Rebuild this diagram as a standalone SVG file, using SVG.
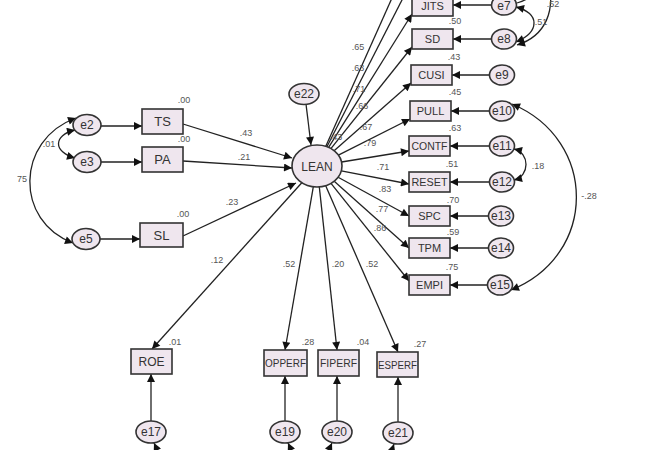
<svg xmlns="http://www.w3.org/2000/svg" width="650" height="450" viewBox="0 0 650 450">
<style>
.box{fill:#efe6ee;stroke:#333;stroke-width:1.6}
.ell{fill:#efe6ee;stroke:#333;stroke-width:1.6}
.lbl{font-family:"Liberation Sans",Arial,sans-serif;font-size:12px;fill:#333;text-anchor:middle}
.sm{font-family:"Liberation Sans",Arial,sans-serif;font-size:10px;fill:#333;text-anchor:middle}
.rb{font-family:"Liberation Sans",Arial,sans-serif;font-size:11px;fill:#333;text-anchor:middle}
.num{font-family:"Liberation Sans",Arial,sans-serif;font-size:9px;fill:#555;text-anchor:middle}
.ln{fill:none;stroke:#222;stroke-width:1.3}
.a{marker-end:url(#ah)}
.b{marker-start:url(#ah);marker-end:url(#ah)}
</style>
<defs>
<marker id="ah" viewBox="0 0 10 10" refX="10" refY="5" markerWidth="11" markerHeight="8" orient="auto-start-reverse" markerUnits="userSpaceOnUse">
<path d="M0,0 L10,5 L0,10 z" fill="#111"/>
</marker>
</defs>
<rect width="650" height="450" fill="#fff"/>
<g id="connectors">
<line class="ln a" x1="101" y1="126" x2="142" y2="126"/>
<line class="ln a" x1="101" y1="162" x2="142" y2="162"/>
<line class="ln a" x1="100" y1="239" x2="140" y2="239"/>
<path class="ln b" d="M76,118 C15,140 15,222 73,243"/>
<path class="ln b" d="M75,130 C53,135 53,152 75,158"/>
<line class="ln a" x1="183" y1="124" x2="292" y2="158"/>
<line class="ln a" x1="183" y1="161" x2="292" y2="168"/>
<line class="ln a" x1="183" y1="236" x2="296" y2="183"/>
<line class="ln a" x1="306" y1="104" x2="311" y2="145"/>
<line class="ln" x1="325.8" y1="146.3" x2="392" y2="-2"/>
<line class="ln" x1="326.9" y1="146.7" x2="403" y2="-2"/>
<line class="ln a" x1="328.6" y1="147.4" x2="412" y2="14"/>
<line class="ln a" x1="330.9" y1="148.6" x2="412" y2="47"/>
<line class="ln a" x1="334.1" y1="150.7" x2="411" y2="83"/>
<line class="ln a" x1="338.4" y1="155.1" x2="410" y2="119"/>
<line class="ln a" x1="341.5" y1="162" x2="409" y2="151"/>
<line class="ln a" x1="341.3" y1="170.8" x2="409" y2="184"/>
<line class="ln a" x1="338.1" y1="177.3" x2="409" y2="216"/>
<line class="ln a" x1="334.2" y1="181.2" x2="409" y2="248"/>
<line class="ln a" x1="331" y1="183.4" x2="409" y2="281"/>
<line class="ln a" x1="325.7" y1="185.7" x2="398" y2="352"/>
<line class="ln a" x1="319.3" y1="186.9" x2="337" y2="350"/>
<line class="ln a" x1="313.3" y1="186.8" x2="285" y2="350"/>
<line class="ln a" x1="301.8" y1="182.7" x2="152" y2="349"/>
<line class="ln a" x1="491.5" y1="5" x2="453" y2="5"/>
<line class="ln a" x1="491.5" y1="39" x2="453" y2="39"/>
<line class="ln a" x1="489.5" y1="75" x2="452" y2="75"/>
<line class="ln a" x1="489.5" y1="111" x2="451" y2="111"/>
<line class="ln a" x1="489.5" y1="146" x2="450" y2="146"/>
<line class="ln a" x1="489.5" y1="182" x2="450" y2="182"/>
<line class="ln a" x1="488.5" y1="216" x2="450" y2="216"/>
<line class="ln a" x1="488.5" y1="248" x2="450" y2="248"/>
<line class="ln a" x1="487.5" y1="285" x2="450" y2="285"/>
<path class="ln b" d="M516,7 C540,13 540,32 516,42"/>
<path class="ln a" d="M548,-20 C556,10 546,36 517,45"/>
<path class="ln" d="M517,3 C530,-1 535,-6 536,-12"/>
<path class="ln b" d="M514,149 C530,153 530,176 514,180"/>
<path class="ln b" d="M512,104 C598,140 598,255 511,290"/>
<line class="ln a" x1="151" y1="421" x2="151" y2="374"/>
<line class="ln a" x1="285" y1="421" x2="285" y2="376"/>
<line class="ln a" x1="337" y1="421" x2="337" y2="376"/>
<line class="ln a" x1="398" y1="422" x2="398" y2="377"/>
<line class="ln a" x1="160" y1="456" x2="154" y2="443"/>
<line class="ln a" x1="294" y1="456" x2="288" y2="443"/>
<line class="ln a" x1="326" y1="456" x2="332" y2="443"/>
<line class="ln a" x1="390" y1="456" x2="394" y2="444"/>
</g>
<g id="n-LEAN"><ellipse class="ell" cx="317" cy="166" rx="25" ry="21"/><text class="lbl" x="317" y="170.5">LEAN</text></g>
<g id="n-e22"><ellipse class="ell" cx="304" cy="94" rx="15" ry="10.5"/><text class="lbl" x="304" y="98">e22</text></g>
<g id="n-TS"><rect class="box" x="142" y="109" width="41" height="25"/><text class="lbl" x="162.5" y="126" style="font-size:13px">TS</text></g>
<g id="n-PA"><rect class="box" x="142" y="147" width="41" height="25"/><text class="lbl" x="162.5" y="164" style="font-size:13px">PA</text></g>
<g id="n-SL"><rect class="box" x="140" y="223" width="43" height="24"/><text class="lbl" x="161.5" y="240" style="font-size:13px">SL</text></g>
<g id="n-e2"><ellipse class="ell" cx="87" cy="125" rx="14" ry="10.5"/><text class="lbl" x="87" y="129">e2</text></g>
<g id="n-e3"><ellipse class="ell" cx="87" cy="162" rx="14" ry="10.5"/><text class="lbl" x="87" y="166">e3</text></g>
<g id="n-e5"><ellipse class="ell" cx="86" cy="239" rx="14" ry="10.5"/><text class="lbl" x="86" y="243">e5</text></g>
<g id="n-JITS"><rect class="box" x="412" y="-4" width="41" height="20"/><text class="rb" x="432.5" y="10">JITS</text></g>
<g id="n-SD"><rect class="box" x="412" y="29" width="41" height="20"/><text class="rb" x="432.5" y="43">SD</text></g>
<g id="n-CUSI"><rect class="box" x="411" y="65" width="41" height="20"/><text class="rb" x="431.5" y="79">CUSI</text></g>
<g id="n-PULL"><rect class="box" x="410" y="101" width="41" height="20"/><text class="rb" x="430.5" y="115">PULL</text></g>
<g id="n-CONTF"><rect class="box" x="409" y="136" width="41" height="20"/><text class="rb" x="429.5" y="150" textLength="36" lengthAdjust="spacingAndGlyphs">CONTF</text></g>
<g id="n-RESET"><rect class="box" x="409" y="172" width="41" height="20"/><text class="rb" x="429.5" y="186" textLength="36" lengthAdjust="spacingAndGlyphs">RESET</text></g>
<g id="n-SPC"><rect class="box" x="409" y="206" width="41" height="20"/><text class="rb" x="429.5" y="220">SPC</text></g>
<g id="n-TPM"><rect class="box" x="409" y="238" width="41" height="20"/><text class="rb" x="429.5" y="252">TPM</text></g>
<g id="n-EMPI"><rect class="box" x="409" y="275" width="41" height="20"/><text class="rb" x="429.5" y="289">EMPI</text></g>
<g id="n-e7"><ellipse class="ell" cx="504" cy="5" rx="12.5" ry="10"/><text class="lbl" x="504" y="10">e7</text></g>
<g id="n-e8"><ellipse class="ell" cx="504" cy="39" rx="12.5" ry="10"/><text class="lbl" x="504" y="43">e8</text></g>
<g id="n-e9"><ellipse class="ell" cx="502" cy="75" rx="12.5" ry="10"/><text class="lbl" x="502" y="79">e9</text></g>
<g id="n-e10"><ellipse class="ell" cx="502" cy="111" rx="12.5" ry="10"/><text class="lbl" x="502" y="115">e10</text></g>
<g id="n-e11"><ellipse class="ell" cx="502" cy="146" rx="12.5" ry="10"/><text class="lbl" x="502" y="150">e11</text></g>
<g id="n-e12"><ellipse class="ell" cx="502" cy="182" rx="12.5" ry="10"/><text class="lbl" x="502" y="186">e12</text></g>
<g id="n-e13"><ellipse class="ell" cx="501" cy="216" rx="12.5" ry="10"/><text class="lbl" x="501" y="220">e13</text></g>
<g id="n-e14"><ellipse class="ell" cx="501" cy="248" rx="12.5" ry="10"/><text class="lbl" x="501" y="252">e14</text></g>
<g id="n-e15"><ellipse class="ell" cx="500" cy="285" rx="12.5" ry="10"/><text class="lbl" x="500" y="289">e15</text></g>
<g id="n-ROE"><rect class="box" x="131" y="349" width="41" height="25"/><text class="lbl" x="151.5" y="366">ROE</text></g>
<g id="n-OPPERF"><rect class="box" x="264" y="350" width="43" height="26"/><text class="sm" x="285.5" y="367" textLength="41" lengthAdjust="spacingAndGlyphs">OPPERF</text></g>
<g id="n-FIPERF"><rect class="box" x="318" y="350" width="41" height="26"/><text class="sm" x="338.5" y="367" textLength="37" lengthAdjust="spacingAndGlyphs">FIPERF</text></g>
<g id="n-ESPERF"><rect class="box" x="377" y="352" width="41" height="25"/><text class="sm" x="397.5" y="368.5" textLength="39" lengthAdjust="spacingAndGlyphs">ESPERF</text></g>
<g id="n-e17"><ellipse class="ell" cx="151" cy="432" rx="15" ry="11"/><text class="lbl" x="151" y="436">e17</text></g>
<g id="n-e19"><ellipse class="ell" cx="285" cy="432" rx="15" ry="11"/><text class="lbl" x="285" y="436">e19</text></g>
<g id="n-e20"><ellipse class="ell" cx="337" cy="432" rx="15" ry="11"/><text class="lbl" x="337" y="436">e20</text></g>
<g id="n-e21"><ellipse class="ell" cx="398" cy="433" rx="15" ry="11"/><text class="lbl" x="398" y="437">e21</text></g>
<g id="labels">
<text class="num" x="184" y="103">.00</text>
<text class="num" x="184" y="142">.00</text>
<text class="num" x="183" y="217">.00</text>
<text class="num" x="246" y="136">.43</text>
<text class="num" x="244" y="160">.21</text>
<text class="num" x="232" y="205">.23</text>
<text class="num" x="49" y="147">.01</text>
<text class="num" x="22" y="182">75</text>
<text class="num" x="217" y="263">.12</text>
<text class="num" x="289" y="267">.52</text>
<text class="num" x="338" y="267">.20</text>
<text class="num" x="372" y="267">.52</text>
<text class="num" x="175" y="345">.01</text>
<text class="num" x="308" y="345">.28</text>
<text class="num" x="363" y="345">.04</text>
<text class="num" x="420" y="347">.27</text>
<text class="num" x="358" y="50">.65</text>
<text class="num" x="358" y="71">.63</text>
<text class="num" x="359" y="92">.71</text>
<text class="num" x="362" y="109">.66</text>
<text class="num" x="366" y="130">.67</text>
<text class="num" x="370" y="146">.79</text>
<text class="num" x="336" y="140">.43</text>
<text class="num" x="383" y="170">.71</text>
<text class="num" x="385" y="192">.83</text>
<text class="num" x="382" y="212">.77</text>
<text class="num" x="380" y="231">.86</text>
<text class="num" x="455" y="24">.50</text>
<text class="num" x="454" y="60">.43</text>
<text class="num" x="455" y="95">.45</text>
<text class="num" x="455" y="131">.63</text>
<text class="num" x="452" y="167">.51</text>
<text class="num" x="453" y="203">.70</text>
<text class="num" x="453" y="235">.59</text>
<text class="num" x="452" y="270">.75</text>
<text class="num" x="553" y="7">.52</text>
<text class="num" x="541" y="25">.51</text>
<text class="num" x="538" y="169">.18</text>
<text class="num" x="589" y="199">-.28</text>
</g>
</svg>
